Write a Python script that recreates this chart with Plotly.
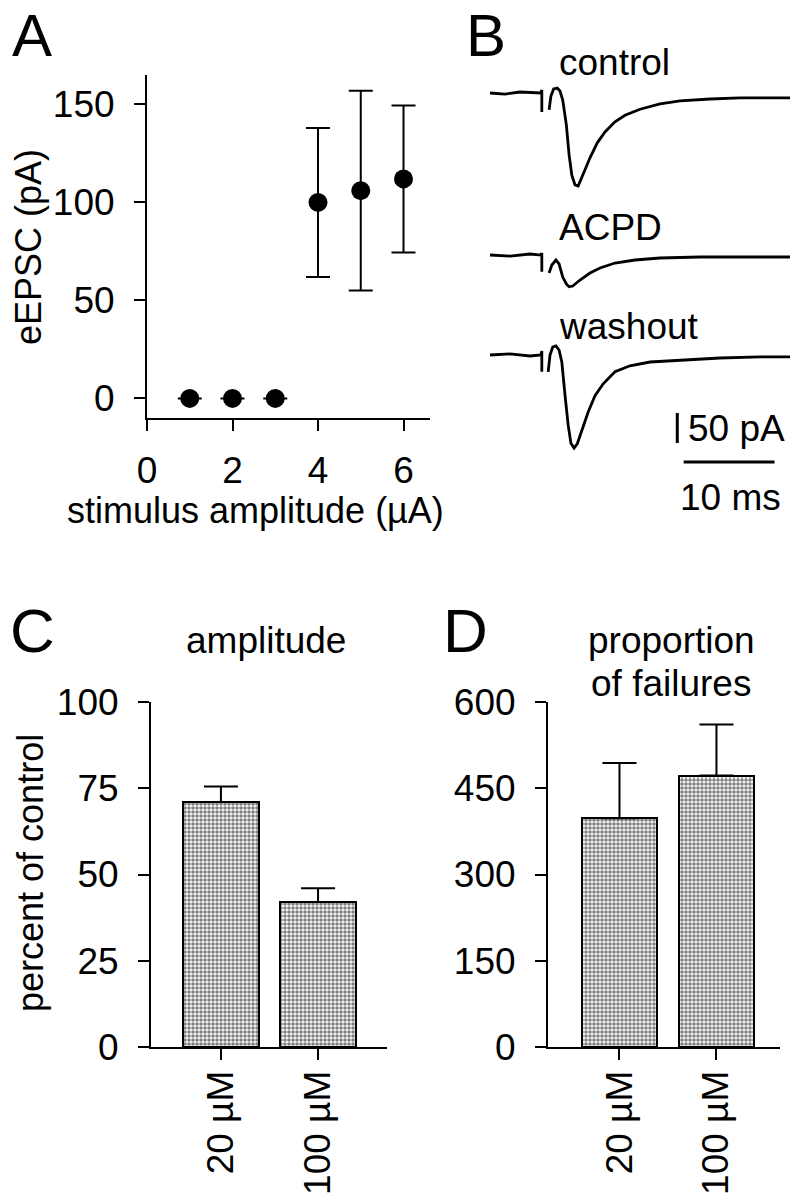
import plotly.graph_objects as go

W, H = 792, 1200
FONT = "Liberation Sans"

# ---------------- data ----------------
# Panel A
stim_uA = [1, 2, 3, 4, 5, 6]
eepsc_pA = [0, 0, 0, 100, 106, 112]
eepsc_err = [None, None, None, 38, 51, 37.5]
a_xticks = [0, 2, 4, 6]
a_yticks = [0, 50, 100, 150]

# Panel B traces (time in ms, current in pA relative to baseline); None = gap after stimulus artifact
ctrl_t = [0, 1.65, 3.3, 4.95, 5.6, 5.7, 5.7, None, 6.5, 6.7, 7.0, 7.4, 7.7, 8.0, 8.4, 8.7, 9.0, 9.35, 9.7,
          10.0, 10.45, 11.0, 11.8, 12.65, 13.75, 14.85, 16.5, 18.7, 20.9, 24.2, 27.5, 30.8, 33.0]
ctrl_i = [0, -1.7, 1.7, 0, 0, 5, -31.7, None, -28, -5, 6.7, 8.3, 3.3, -11.7, -53, -103, -137, -153, -155,
          -145, -128, -108, -83, -65, -48, -37, -27, -18, -13, -10, -8, -8, -8]
acpd_t = [0, 2.2, 4.4, 5.6, 5.7, 5.7, None, 6.5, 6.8, 7.25, 7.6, 8.0, 8.4, 8.7, 9.1, 9.9, 11.0, 12.1,
          13.75, 15.95, 18.7, 23.1, 28.6, 33.0]
acpd_i = [0, -1.7, 1.7, 0, 3.3, -28, None, -30, -16.7, -8.3, -15, -36.7, -48, -53, -51.7, -41.7, -30, -21.7,
          -13.3, -8.3, -5, -3.3, -3.3, -3.3]
wash_t = [0, 2.2, 4.4, 5.6, 5.7, 5.7, None, 6.4, 6.6, 6.9, 7.25, 7.6, 7.9, 8.25, 8.6, 8.9, 9.25, 9.6, 10.1,
          10.8, 11.55, 12.45, 13.75, 15.4, 17.6, 20.9, 25.3, 29.7, 33.0]
wash_i = [0, 1.7, -1.7, 0, 6.7, -28, None, -28, 0, 13.3, 15, 8.3, -11.7, -66.7, -117, -147, -155, -148, -125,
          -95, -68, -48, -28, -18, -11.7, -8.3, -5, -3.3, -3.3]
trace_names = ["control", "ACPD", "washout"]
scale_pA = 50
scale_ms = 10

# Panel C
conc_labels = ["20 µM", "100 µM"]
amp_pct = [71, 42]
amp_err = [4.5, 4]
c_yticks = [0, 25, 50, 75, 100]

# Panel D
fail_pct = [398, 472]
fail_err = [96, 89]
d_yticks = [0, 150, 300, 450, 600]


# ---------------- layout helpers (window pixels -> paper) ----------------
def px(x):
    return min(1.0, max(0.0, x / W))


def py(y):
    return min(1.0, max(0.0, 1 - y / H))


fig = go.Figure()

TICK = 37
common_axis = dict(showline=True, linecolor="black", linewidth=2, ticks="outside", ticklen=11,
                   tickwidth=2, tickcolor="black", showgrid=False, zeroline=False, automargin=False,
                   tickfont=dict(family=FONT, size=TICK, color="black"))

# ---- Panel A ----
fig.add_trace(go.Scatter(
    x=stim_uA, y=eepsc_pA, mode="markers",
    marker=dict(size=19, color="black"),
    error_y=dict(type="data", array=eepsc_err, visible=True, color="black", thickness=2, width=12),
    xaxis="x", yaxis="y", showlegend=False))

# ---- Panel B ----
offsets = [-21.7, -291.7, -458.3]
for tt, ii, off in zip([ctrl_t, acpd_t, wash_t], [ctrl_i, acpd_i, wash_i], offsets):
    fig.add_trace(go.Scatter(
        x=tt, y=[None if v is None else v + off for v in ii], mode="lines",
        line=dict(color="black", width=2.8), connectgaps=False,
        xaxis="x2", yaxis="y2", showlegend=False))

# ---- Panel C ----
bar_style = dict(color="white", line=dict(color="black", width=2),
                 pattern=dict(shape=".", fgcolor="black", bgcolor="white", size=4, solidity=0.65))
fig.add_trace(go.Bar(
    x=[0, 1], y=amp_pct, width=0.78, marker=bar_style,
    error_y=dict(type="data", array=amp_err, arrayminus=[0, 0], symmetric=False,
                 color="black", thickness=2, width=17),
    xaxis="x3", yaxis="y3", showlegend=False))

# ---- Panel D ----
fig.add_trace(go.Bar(
    x=[0, 1], y=fail_pct, width=0.78, marker=bar_style,
    error_y=dict(type="data", array=fail_err, arrayminus=[0, 0], symmetric=False,
                 color="black", thickness=2, width=17),
    xaxis="x4", yaxis="y4", showlegend=False))

# B scale bars (data coordinates)
shapes = [
    dict(type="line", xref="x2", yref="y2", x0=20.6, x1=20.6, y0=-555, y1=-555 - scale_pA,
         line=dict(color="black", width=3)),
    dict(type="line", xref="x2", yref="y2", x0=21.3, x1=21.3 + scale_ms, y0=-636.7, y1=-636.7,
         line=dict(color="black", width=3)),
]

annotations = []


def ann(text, x, y, size=37, xanchor="center", yanchor="middle", textangle=0):
    annotations.append(dict(text=text, x=px(x), y=py(y), xref="paper", yref="paper",
                            showarrow=False, xanchor=xanchor, yanchor=yanchor, textangle=textangle,
                            font=dict(family=FONT, size=size, color="black")))


# panel letters
ann("A", 32, 0, size=60, yanchor="top")
ann("B", 486, 0, size=60, yanchor="top")
ann("C", 32, 630, size=62)
ann("D", 466, 630, size=62)
# axis titles
ann("stimulus amplitude (µA)", 255, 510, size=36)
ann("eEPSC (pA)", 29, 247, size=36, textangle=-90)
ann("percent of control", 30, 873, size=36, textangle=-90)
ann("amplitude", 266, 640)
ann("proportion", 671, 640)
ann("of failures", 671, 683)
# B labels
ann(trace_names[0], 557, 63, xanchor="left")
ann(trace_names[1], 557, 228, xanchor="left")
ann(trace_names[2], 557, 327, xanchor="left")
ann(f"{scale_pA} pA", 686, 428, xanchor="left")
ann(f"{scale_ms} ms", 730, 497)

hidden = dict(visible=False, automargin=False)
fig.update_layout(
    width=W, height=H, margin=dict(l=0, r=0, t=0, b=0, pad=0), autosize=False,
    paper_bgcolor="white", plot_bgcolor="rgba(0,0,0,0)",
    font=dict(family=FONT, color="black"),
    bargap=0, hovermode=False,
    xaxis=dict(domain=[px(147), px(430)], range=[0, 6.62], tickvals=a_xticks, anchor="y",
               ticklabelstandoff=8, **common_axis),
    yaxis=dict(domain=[py(418), py(75)], range=[-10, 165], tickvals=a_yticks, anchor="x",
               ticklabelstandoff=12, **common_axis),
    xaxis2=dict(domain=[px(490), px(790)], range=[0, 33], anchor="y2", **hidden),
    yaxis2=dict(domain=[py(470), py(80)], range=[-650, 0], anchor="x2", **hidden),
    xaxis3=dict(domain=[px(151), px(387)], range=[-0.72, 1.71], tickvals=[0, 1], ticktext=conc_labels,
                tickangle=-90, anchor="y3", ticklabelstandoff=-4, **common_axis),
    yaxis3=dict(domain=[py(1047), py(702)], range=[0, 100], tickvals=c_yticks, anchor="x3",
                ticklabelstandoff=12, **common_axis),
    xaxis4=dict(domain=[px(548), px(780)], range=[-0.737, 1.655], tickvals=[0, 1], ticktext=conc_labels,
                tickangle=-90, anchor="y4", ticklabelstandoff=-4, **common_axis),
    yaxis4=dict(domain=[py(1047), py(702)], range=[0, 600], tickvals=d_yticks, anchor="x4",
                ticklabelstandoff=12, **common_axis),
    shapes=shapes, annotations=annotations,
)

# remove the default 8px page margin so the figure fills the 792x1200 window exactly
fig.write_html("out.html", config={"displayModeBar": False},
               post_script="document.body.style.margin='0';")
